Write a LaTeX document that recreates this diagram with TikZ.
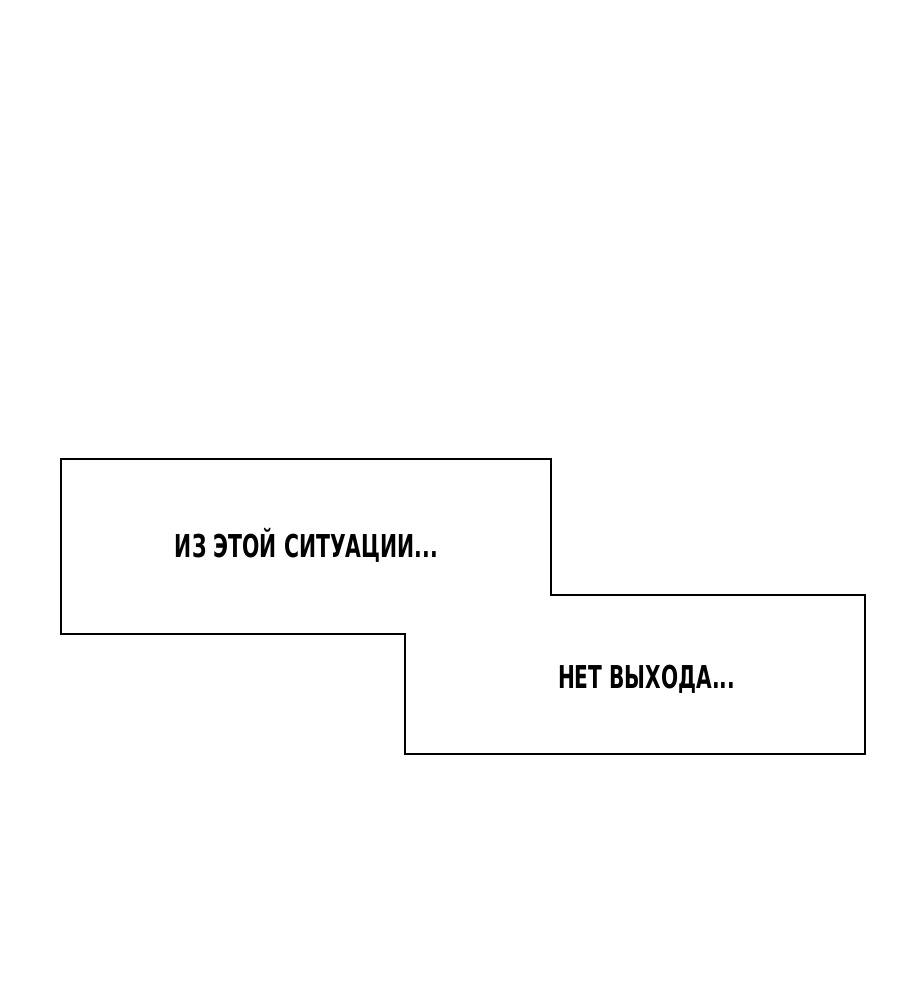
\documentclass[tikz,border=0pt]{standalone}
\usepackage{fontspec}
\setmainfont{DejaVu Sans}
\newfontfamily\comicfont{DejaVu Sans Condensed}[BoldFont={DejaVu Sans Condensed Bold}]
\begin{document}
\begin{tikzpicture}[x=1pt,y=-1pt,
  panel/.style={draw=black,line width=1.2pt,fill=white},
  caption/.style={anchor=base,inner sep=0pt,font=\comicfont\bfseries\fontsize{31.5}{34}\selectfont}]
\useasboundingbox (0,0) rectangle (918,989);
\fill[white] (0,0) rectangle (918,989);
\coordinate (p1) at (61,459);
\coordinate (p2) at (551,459);
\coordinate (p3) at (551,595);
\coordinate (p4) at (865,595);
\coordinate (p5) at (865,754);
\coordinate (p6) at (405,754);
\coordinate (p7) at (405,634);
\coordinate (p8) at (61,634);
\draw[panel] (p1) -- (p2) -- (p3) -- (p4) -- (p5) -- (p6) -- (p7) -- (p8) -- cycle;
\node[caption] (t1) at (306.5,557) {\resizebox{263pt}{\height}{ИЗ ЭТОЙ СИТУАЦИИ...}};
\node[caption] (t2) at (646.5,688) {\resizebox{177pt}{\height}{НЕТ ВЫХОДА...}};
\end{tikzpicture}
\end{document}
